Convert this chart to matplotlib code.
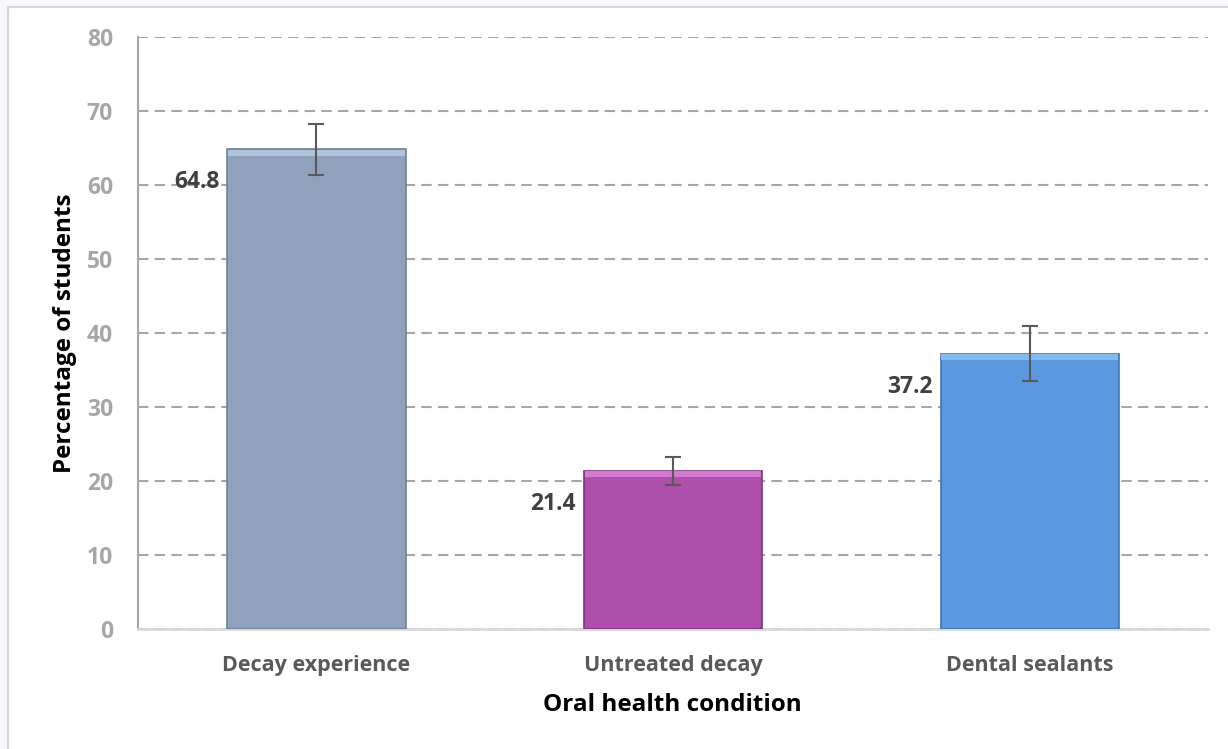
import matplotlib.pyplot as plt
from matplotlib.patches import Rectangle
import numpy as np

# values
categories = ['Decay experience', 'Untreated decay', 'Dental sealants']
percent = [64.8, 21.4, 37.2]
err = [3.4, 1.9, 3.75]
colors = ['#8ea2bb', '#ad4fab', '#5c98df']
edges = ['#6f8199', '#7f3380', '#3f74b5']
tops = ['#b3c4d9', '#d27ad0', '#86b9ef']

plt.rcParams['font.family'] = ['Open Sans', 'DejaVu Sans']

fig = plt.figure(figsize=(12.28, 7.49), dpi=100)
fig.patch.set_facecolor('#f6f8fc')
# white chart panel
fig.patches.append(Rectangle((8 / 1228, -0.01), 1.02, 1 - 7 / 749 + 0.01,
                             transform=fig.transFigure, facecolor='white',
                             edgecolor='#d4d6da', linewidth=1.5, zorder=-5))

ax = fig.add_axes([138 / 1228, (749 - 629) / 749, (1208 - 138) / 1228, 592 / 749])
ax.set_facecolor('white')

x = np.arange(len(categories))
ax.bar(x, percent, width=0.5, color=colors, edgecolor=edges, linewidth=1.2, zorder=3)
# bevel highlight along the top of each bar
ax.bar(x, [0.8] * 3, bottom=np.array(percent) - 0.85, width=0.495, color=tops,
       linewidth=0, zorder=4)
ax.errorbar(x, percent, yerr=err, fmt='none', ecolor='#595959', elinewidth=1.5,
            capsize=6, capthick=1.5, zorder=5)

for xi, v in zip(x, percent):
    ax.annotate(f'{v}', xy=(xi - 0.25, v), xytext=(-8, -33), textcoords='offset pixels',
                ha='right', va='center', fontsize=16.5, fontweight='bold', color='#404040')

ax.set_xlim(-0.5, 2.5)
ax.set_ylim(0, 80)
ax.set_yticks(range(0, 81, 10))
ax.set_xticks(x)
ax.set_xticklabels(categories)
ax.yaxis.grid(True, color='#a6a6a6', linestyle=(0, (5, 3)), linewidth=1.5, zorder=1)
ax.set_axisbelow(True)

ax.tick_params(axis='y', length=0, pad=18, labelsize=16.5, labelcolor='#a6a6a6')
ax.tick_params(axis='x', length=0, pad=19, labelsize=15.5, labelcolor='#595959')
for lab in ax.get_xticklabels() + ax.get_yticklabels():
    lab.set_fontweight('bold')

for s in ['top', 'right']:
    ax.spines[s].set_visible(False)
ax.spines['left'].set_color('#a6a6a6')
ax.spines['left'].set_linewidth(1.5)
ax.spines['bottom'].set_color('#d9d9d9')
ax.spines['bottom'].set_linewidth(2)

fig.text(65 / 1228, 1 - 333 / 749, 'Percentage of students', rotation=90,
         ha='center', va='center', fontsize=17.5, fontweight='bold', color='black')
fig.text(672 / 1228, 1 - 705 / 749, 'Oral health condition',
         ha='center', va='center', fontsize=17.5, fontweight='bold', color='black')

fig.savefig('out.png', dpi=100, facecolor=fig.get_facecolor())
